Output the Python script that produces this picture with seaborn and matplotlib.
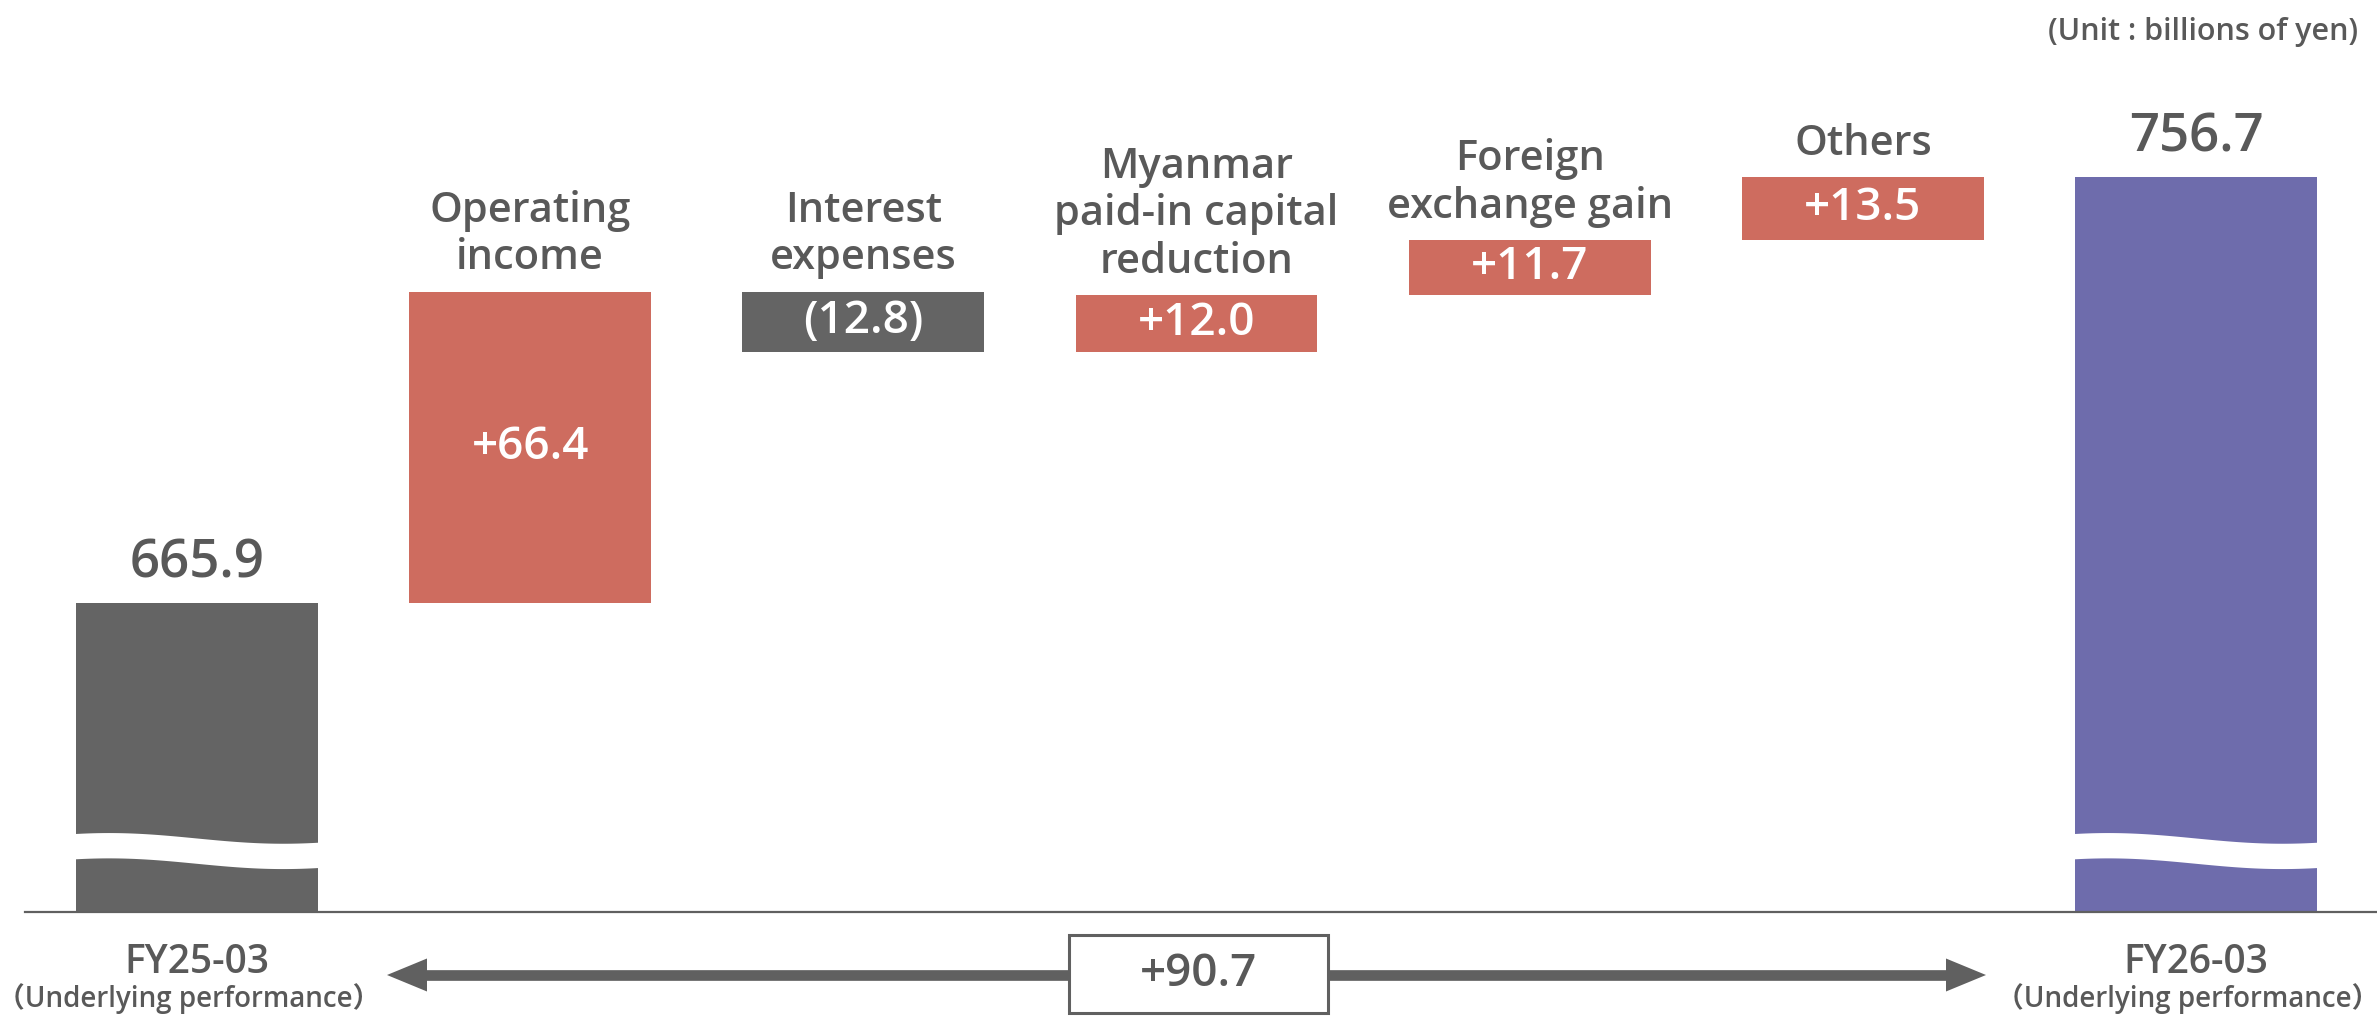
import numpy as np
import pandas as pd
import matplotlib
matplotlib.use('Agg')
import matplotlib.pyplot as plt
import matplotlib.transforms as mtransforms
from matplotlib.patches import Rectangle, Polygon
from matplotlib.lines import Line2D
import seaborn as sns

# ─── Data ────────────────────────────────────────────────────────────────────
steps = ['FY25-03', 'Operating income', 'Interest expenses',
         'Myanmar paid-in capital reduction', 'Foreign exchange gain',
         'Others', 'FY26-03']
step_titles = ['', 'Operating\nincome', 'Interest\nexpenses',
               'Myanmar\npaid-in capital\nreduction', 'Foreign\nexchange gain',
               'Others', '']
start_value = 665.9
changes = [66.4, -12.8, 12.0, 11.7, 13.5]
change_labels = ['+66.4', '(12.8)', '+12.0', '+11.7', '+13.5']
end_value = 756.7
total_change_label = '+90.7'
period_labels = ['FY25-03', 'FY26-03']
period_note = '\uff08Underlying performance\uff09'
unit_note = '(Unit : billions of yen)'

AXIS_FLOOR = 600          # broken axis: the bars start here
GRAY = '#646464'
RED = '#CE6C5F'
PURPLE = '#6E6CAC'
TEXT = '#595959'
LINE = '#606060'
WEIGHT = 'semibold'

# ─── Waterfall geometry ─────────────────────────────────────────────────────
running = start_value + np.concatenate([[0], np.cumsum(changes)])
lows = [AXIS_FLOOR] + list(np.minimum(running[:-1], running[1:])) + [AXIS_FLOOR]
highs = [start_value] + list(np.maximum(running[:-1], running[1:])) + [end_value]
colors = [GRAY] + [RED if c > 0 else GRAY for c in changes] + [PURPLE]
df = pd.DataFrame({'step': steps, 'low': lows, 'high': highs})

# ─── Figure ─────────────────────────────────────────────────────────────────
sns.set_theme(style='white')
plt.rcParams['font.family'] = ['Open Sans', 'Noto Sans CJK JP', 'DejaVu Sans']

W, H = 2377, 1017
fig = plt.figure(figsize=(W / 100, H / 100), dpi=100)
# pixel transform, origin top-left (for decorations outside the axes)
px = mtransforms.Affine2D().scale(1 / 100, -1 / 100).translate(0, H / 100) + fig.dpi_scale_trans

ax = fig.add_axes([25 / W, (H - 912) / H, 1 - 25 / W, 912 / H])
bar_w = 0.726
sns.barplot(data=df, x='step', y='high', hue='step', palette=colors,
            width=bar_w, saturation=1, legend=False, linewidth=0, ax=ax)
for patch, lo, hi in zip(ax.patches, lows, highs):
    patch.set_y(lo)
    patch.set_height(hi - lo)

ax.set_xlim(-0.516, 6.543)
ax.set_ylim(AXIS_FLOOR, AXIS_FLOOR + 912 / 4.69)
ax.set_xticks([])
ax.set_yticks([])
ax.set_xlabel('')
ax.set_ylabel('')
sns.despine(ax=ax, left=True)
ax.spines['bottom'].set_color(LINE)
ax.spines['bottom'].set_linewidth(1.6)

# wavy break on the two totals
t = np.linspace(0, 1, 120)
for i in (0, len(steps) - 1):
    xs = i - bar_w / 2 - 0.005 + t * (bar_w + 0.01)
    top = 615.8 + 1.14 * np.cos(np.pi * (t - 0.14) / 0.71)
    ax.fill_between(xs, top - 5.4, top, color='white', lw=0, zorder=3)

# total values above start / end bars
for i in (0, len(steps) - 1):
    ax.annotate(f'{highs[i]:.1f}', xy=(i, highs[i]), xytext=(0, 18.5),
                textcoords='offset points', ha='center', va='baseline',
                fontsize=38, color=TEXT, fontweight=WEIGHT)

# change bars: title above, value inside
for i in range(1, len(steps) - 1):
    ax.annotate(step_titles[i], xy=(i, highs[i]), xytext=(0, 9),
                textcoords='offset points', ha='center', va='bottom',
                fontsize=30, color=TEXT, fontweight=WEIGHT, linespacing=1.17)
    ax.text(i, (lows[i] + highs[i]) / 2, change_labels[i - 1], ha='center',
            va='center', fontsize=33, color='white', fontweight=WEIGHT)

# period labels under the axis
under = mtransforms.blended_transform_factory(ax.transData, px)
for i, lab in zip((0, len(steps) - 1), period_labels):
    ax.text(i, 973, lab, transform=under, ha='center', va='baseline',
            fontsize=28, color=TEXT, fontweight=WEIGHT, clip_on=False)
    ax.text(i - 0.025, 1007, period_note, transform=under, ha='center',
            va='baseline', fontsize=20, color=TEXT, fontweight=WEIGHT,
            clip_on=False)

# double arrow with the total change
y_arr = 975
fig.add_artist(Line2D([425, 1948], [y_arr, y_arr], transform=px, color=LINE,
                      lw=7.7, solid_capstyle='butt'))
fig.add_artist(Polygon([(387, y_arr), (427, y_arr - 16.5), (427, y_arr + 16.5)],
                       closed=True, transform=px, color=LINE, lw=0))
fig.add_artist(Polygon([(1986, y_arr), (1946, y_arr - 16.5), (1946, y_arr + 16.5)],
                       closed=True, transform=px, color=LINE, lw=0))
fig.add_artist(Rectangle((1069, 935), 259, 78, transform=px, facecolor='white',
                         edgecolor=LINE, lw=2.2, zorder=5))
fig.text(1198.5, y_arr, total_change_label, transform=px, ha='center',
         va='center', fontsize=33, color=TEXT, fontweight=WEIGHT, zorder=6)

fig.text(2358, 40, unit_note, transform=px, ha='right', va='baseline',
         fontsize=22, color=TEXT, fontweight=WEIGHT)

fig.savefig('out.png', dpi=100)
